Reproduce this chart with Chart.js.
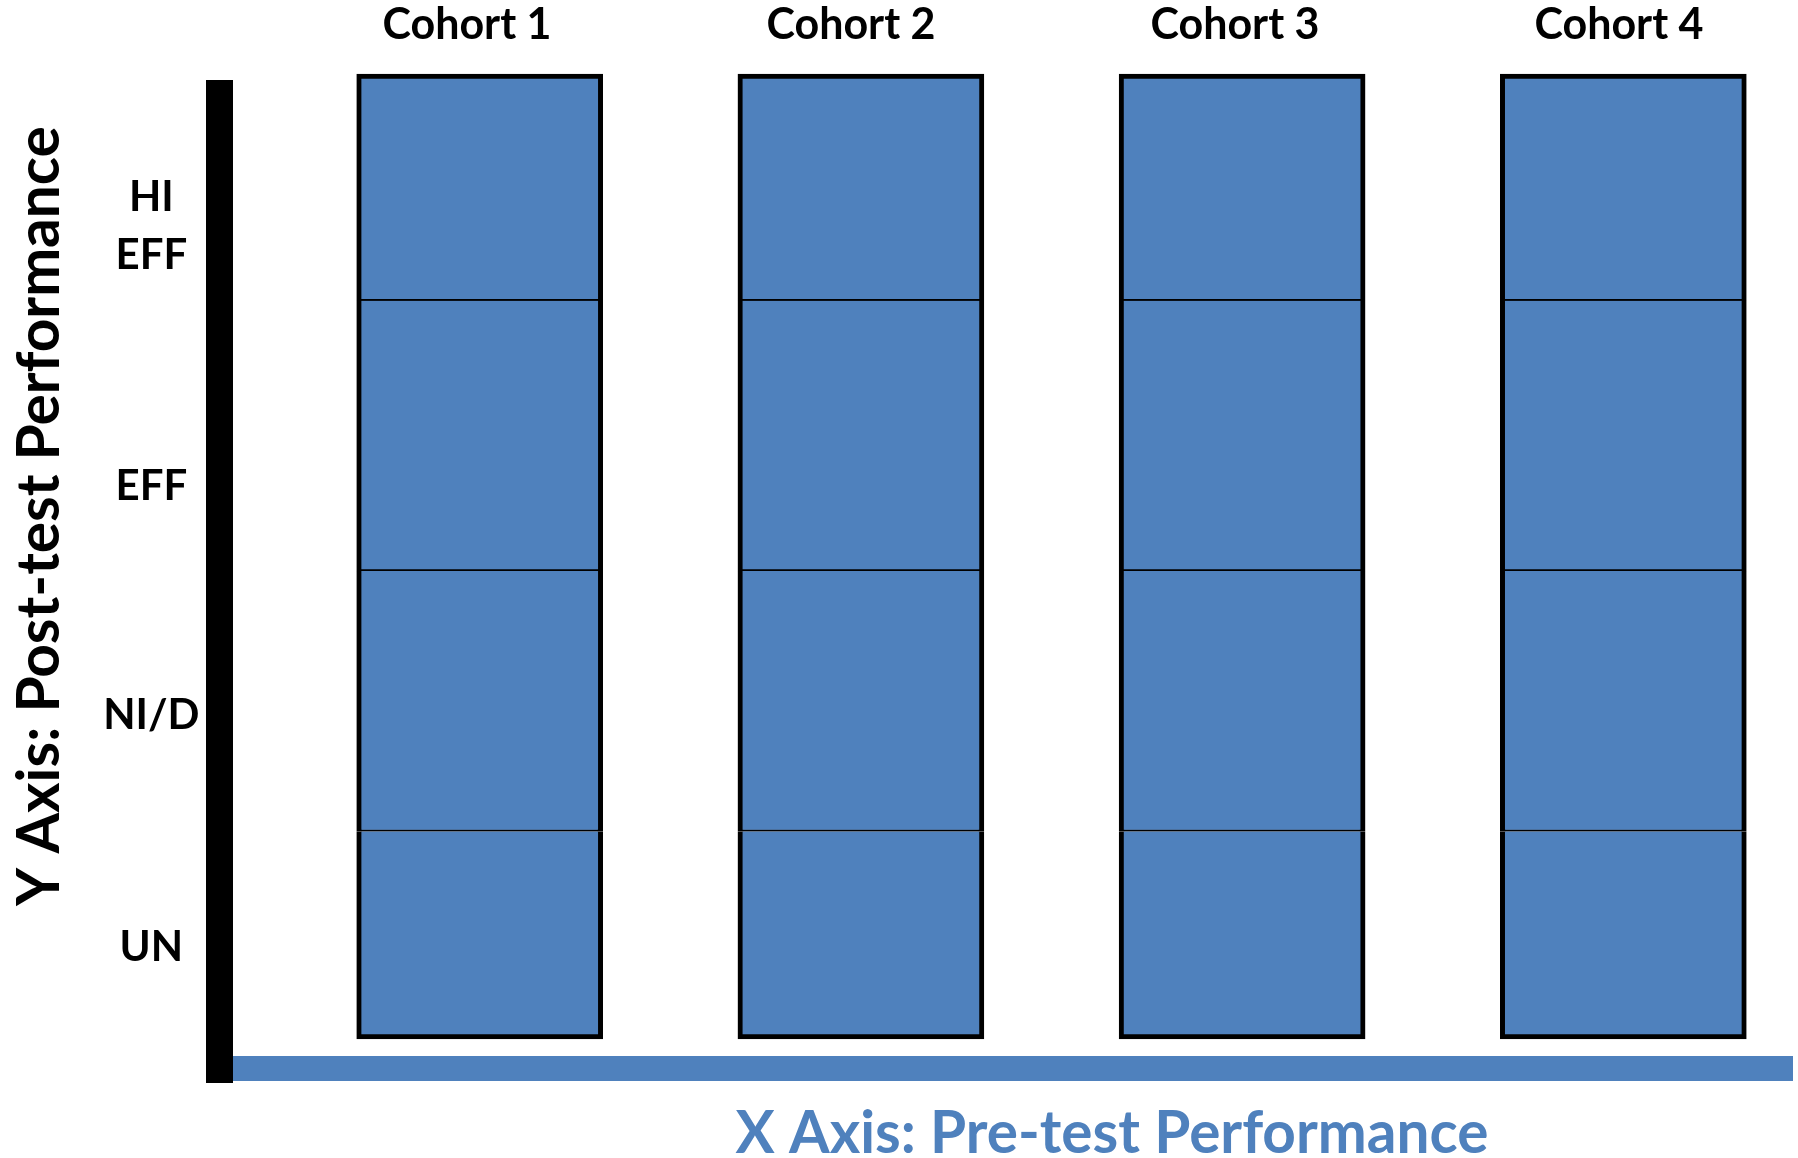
<!DOCTYPE html>
<html>
<head>
<meta charset="utf-8">
<script src="https://cdn.jsdelivr.net/npm/chart.js@4.4.1/dist/chart.umd.min.js"></script>
<style>
  html, body { margin: 0; padding: 0; background: #ffffff; }
  #wrap { width: 1798px; height: 1158px; }
</style>
</head>
<body>
<div id="wrap"><canvas id="cohortChart" width="1798" height="1158"></canvas></div>
<script>
// cohorts along the x axis
const cohorts = ["Cohort 1", "Cohort 2", "Cohort 3", "Cohort 4"];
const cohortPos = [1, 2, 3, 4];

// height of each performance band in every cohort column (share of the column, %)
const unBand = [21.5, 21.5, 21.5, 21.5];
const nidBand = [27, 27, 27, 27];
const effBand = [28, 28, 28, 28];
const hiEffBand = [23.5, 23.5, 23.5, 23.5];

// y axis labels and where they sit
const yTickValues = [9.5, 33.5, 57.3, 84.2];
const yTickLabels = ["UN", "NI/D", "EFF", ["HI", "EFF"]];

const xTitle = "X Axis: Pre-test Performance";
const yTitle = "Y Axis: Post-test Performance";

const blue = "#4F81BD";

Chart.defaults.font.family = "Lato";
Chart.defaults.font.weight = "bold";
Chart.defaults.color = "#000000";

function band(label, values, border) {
  return {
    label: label,
    data: values.map((v, i) => ({ x: cohortPos[i], y: v })),
    backgroundColor: blue,
    borderColor: "#000000",
    borderWidth: border,
    borderSkipped: false,
    barThickness: 246,
    clip: false,
  };
}

// axis titles sit off-centre in the original, so they are placed by hand
const axisTitles = {
  id: "axisTitles",
  afterDraw(chart) {
    const ctx = chart.ctx;
    ctx.save();
    ctx.font = "bold 58.5px Lato";
    ctx.textAlign = "center";
    ctx.textBaseline = "middle";
    ctx.fillStyle = blue;
    ctx.fillText(xTitle, 1112, 1134);
    ctx.translate(40, 516);
    ctx.rotate(-Math.PI / 2);
    ctx.fillStyle = "#000000";
    ctx.fillText(yTitle, 0, 0);
    ctx.restore();
  }
};

const ctx = document.getElementById("cohortChart").getContext("2d");

const chart = new Chart(ctx, {
  type: "bar",
  data: {
    datasets: [
      band("UN", unBand, { left: 5, right: 5, bottom: 5, top: 0 }),
      band("NI/D", nidBand, { left: 5, right: 5, bottom: 2, top: 0 }),
      band("EFF", effBand, { left: 5, right: 5, bottom: 2, top: 0 }),
      band("HI EFF", hiEffBand, { left: 5, right: 5, bottom: 2, top: 5 }),
    ]
  },
  plugins: [axisTitles],
  options: {
    responsive: false,
    animation: false,
    devicePixelRatio: 1,
    layout: {
      padding: { left: 0, right: 6, top: 0, bottom: 0 },
    },
    plugins: {
      legend: { display: false },
      tooltip: { enabled: false },
    },
    scales: {
      x: {
        type: "linear",
        position: "bottom",
        stacked: true,
        offset: false,
        min: 0.3174,
        max: 4.4425,
        grid: { display: false, drawTicks: false, offset: false },
        ticks: { display: false },
        border: { display: true, color: blue, width: 25, z: 0 },
        afterFit: (scale) => { scale.height = 89.5; },
      },
      x2: {
        type: "linear",
        position: "top",
        offset: false,
        min: 0.3555,
        max: 4.4505,
        grid: { display: false, drawTicks: false, offset: false },
        border: { display: false },
        afterBuildTicks: (scale) => {
          scale.ticks = cohortPos.map(v => ({ value: v }));
        },
        ticks: {
          padding: 42.5,
          maxRotation: 0,
          font: { size: 43, weight: "bold", lineHeight: 1.2 },
          callback: (value, index) => cohorts[index],
        },
        afterFit: (scale) => { scale.height = 93.5; },
      },
      y: {
        type: "linear",
        stacked: true,
        min: -3.06,
        max: 97.98,
        grid: { display: false, drawTicks: false, lineWidth: 29 },
        border: { display: true, color: "#000000", width: 27, z: 1 },
        afterBuildTicks: (scale) => {
          scale.ticks = yTickValues.map(v => ({ value: v }));
        },
        ticks: {
          padding: 20,
          crossAlign: "center",
          font: { size: 42, weight: "bold", lineHeight: 1.36 },
          callback: (value, index) => yTickLabels[index],
        },
        afterFit: (scale) => { scale.width = 219.5; },
      },
    }
  }
});
</script>
</body>
</html>
